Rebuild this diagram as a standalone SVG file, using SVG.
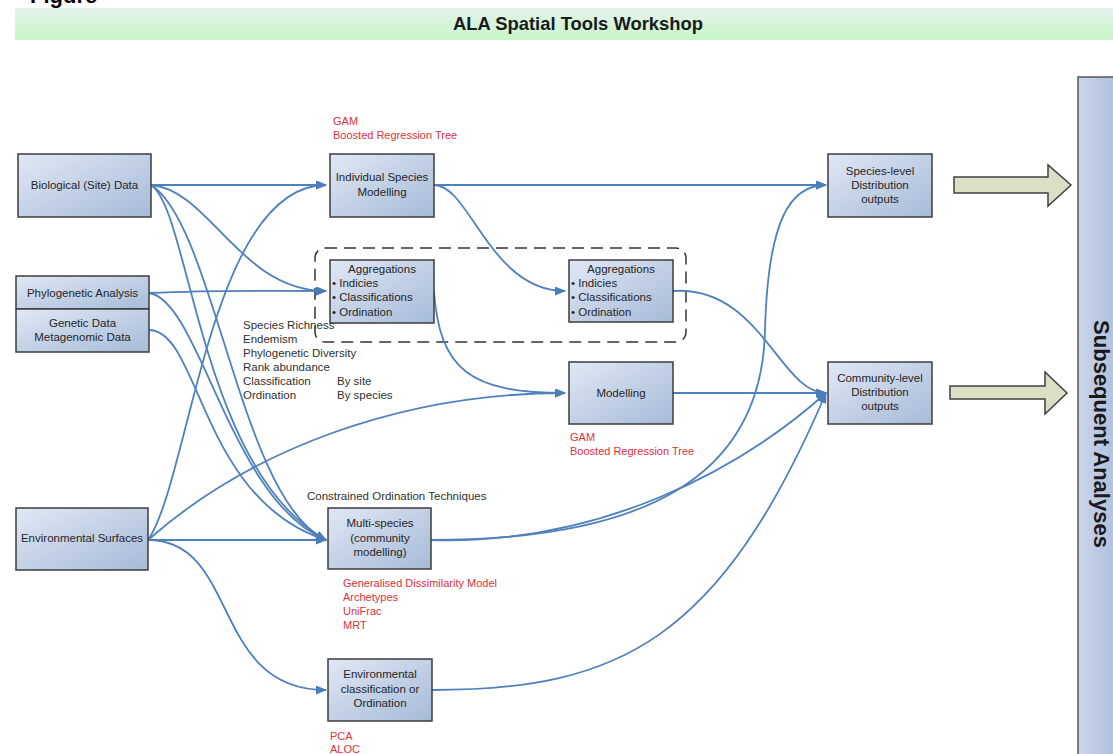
<svg xmlns="http://www.w3.org/2000/svg" width="1113" height="754" viewBox="0 0 1113 754">
<defs>
<linearGradient id="nodeGrad" x1="0" y1="0" x2="1" y2="1">
<stop offset="0" stop-color="#e0e8f4"/>
<stop offset="1" stop-color="#a6bad8"/>
</linearGradient>
<linearGradient id="titleGrad" x1="0" y1="0" x2="0" y2="1">
<stop offset="0" stop-color="#e4f3ec"/>
<stop offset="1" stop-color="#c8f6c8"/>
</linearGradient>
<linearGradient id="sideGrad" x1="0" y1="0" x2="1" y2="0">
<stop offset="0" stop-color="#c9d5ea"/>
<stop offset="1" stop-color="#aebfdd"/>
</linearGradient>
<marker id="arr" markerWidth="11" markerHeight="9" refX="10" refY="4.5" orient="auto" markerUnits="userSpaceOnUse">
<path d="M0,0 L11,4.5 L0,9 z" fill="#4a7ebb"/>
</marker>
<style>
.node{fill:url(#nodeGrad);stroke:#3c3c3c;stroke-width:1.5}
.t{font-family:"Liberation Sans",Arial,sans-serif;font-size:11.5px;fill:#262626}
.c{text-anchor:middle}
.red{font-family:"Liberation Sans",Arial,sans-serif;font-size:11px;fill:#e0303a}
.lbl{font-family:"Liberation Sans",Arial,sans-serif;font-size:11.5px;fill:#303030}
.conn path{fill:none;stroke:#4f81bd;stroke-width:1.8}
.big{fill:#dcdec6;stroke:#404040;stroke-width:1.5}
</style>
</defs>
<rect width="1113" height="754" fill="#ffffff"/>

<g id="header">
<text x="30" y="3" font-family="Liberation Sans, Arial, sans-serif" font-size="22" font-weight="bold" fill="#000">Figure</text>
<rect x="15" y="8" width="1098" height="32" fill="url(#titleGrad)"/>
<text x="578" y="30" text-anchor="middle" font-family="Liberation Sans, Arial, sans-serif" font-size="18.4" font-weight="bold" fill="#1a1a1a">ALA Spatial Tools Workshop</text>
</g>

<g id="subsequent">
<rect x="1078" y="77" width="40" height="690" fill="url(#sideGrad)" stroke="#555" stroke-width="1.5"/>
<text transform="translate(1094,434) rotate(90)" text-anchor="middle" font-family="Liberation Sans, Arial, sans-serif" font-size="22" font-weight="bold" fill="#1a1a1a">Subsequent Analyses</text>
</g>

<g id="aggregation-group">
<rect x="315" y="248" width="371" height="94" rx="10" ry="10" fill="none" stroke="#333" stroke-width="1.5" stroke-dasharray="12 7"/>
</g>

<g class="conn" id="connectors">
<path d="M151,185 L326,185" marker-end="url(#arr)"/>
<path d="M151,185 C210,190 240,291 326,291" marker-end="url(#arr)"/>
<path d="M151,185 C190,210 200,470 326,540" marker-end="url(#arr)"/>
<path d="M151,185 C215,225 240,500 326,540" marker-end="url(#arr)"/>
<path d="M149,293 C220,290 250,291 326,291" marker-end="url(#arr)"/>
<path d="M149,293 C200,300 230,500 326,540" marker-end="url(#arr)"/>
<path d="M149,330 C200,330 200,500 326,540" marker-end="url(#arr)"/>
<path d="M148,540 L326,540" marker-end="url(#arr)"/>
<path d="M148,540 C190,480 210,185 326,185" marker-end="url(#arr)"/>
<path d="M148,540 C250,450 400,393 565,393" marker-end="url(#arr)"/>
<path d="M148,540 C240,540 210,690 326,690" marker-end="url(#arr)"/>
<path d="M434,185 L826,185" marker-end="url(#arr)"/>
<path d="M434,185 C470,185 490,291 565,291" marker-end="url(#arr)"/>
<path d="M434,292 C440,370 470,393 565,393" marker-end="url(#arr)"/>
<path d="M673,291 C760,285 780,393 826,393" marker-end="url(#arr)"/>
<path d="M673,393 L826,393" marker-end="url(#arr)"/>
<path d="M431,540 C640,540 762,480 765,330 C768,220 790,185 826,185" marker-end="url(#arr)"/>
<path d="M431,540 C600,545 740,470 826,393" marker-end="url(#arr)"/>
<path d="M432,690 C620,690 720,640 826,393" marker-end="url(#arr)"/>
</g>

<g id="bio">
<rect class="node" x="18" y="154" width="133" height="63"/>
<text class="t c" x="84.5" y="189">Biological (Site) Data</text>
</g>
<g id="phylo">
<rect class="node" x="16" y="276" width="133" height="33"/>
<text class="t c" x="82.5" y="297">Phylogenetic Analysis</text>
</g>
<g id="genetic">
<rect class="node" x="16" y="309" width="133" height="43"/>
<text class="t c" x="82.5" y="327">Genetic Data</text>
<text class="t c" x="82.5" y="341">Metagenomic Data</text>
</g>
<g id="envsurf">
<rect class="node" x="16" y="508" width="132" height="62"/>
<text class="t c" x="82" y="542">Environmental Surfaces</text>
</g>
<g id="ism">
<rect class="node" x="330" y="154" width="104" height="63"/>
<text class="t c" x="382" y="181">Individual Species</text>
<text class="t c" x="382" y="196">Modelling</text>
<text class="red" x="333" y="125">GAM</text>
<text class="red" x="333" y="139">Boosted Regression Tree</text>
</g>
<g id="agg1">
<rect class="node" x="330" y="260" width="104" height="63"/>
<text class="t c" x="382" y="273">Aggregations</text>
<text class="t" x="332" y="287">• Indicies</text>
<text class="t" x="332" y="301">• Classifications</text>
<text class="t" x="332" y="316">• Ordination</text>
</g>
<g id="agg2">
<rect class="node" x="569" y="260" width="104" height="62"/>
<text class="t c" x="621" y="273">Aggregations</text>
<text class="t" x="571" y="287">• Indicies</text>
<text class="t" x="571" y="301">• Classifications</text>
<text class="t" x="571" y="316">• Ordination</text>
</g>
<g id="indices-labels">
<text class="lbl" x="243" y="329">Species Richness</text>
<text class="lbl" x="243" y="343">Endemism</text>
<text class="lbl" x="243" y="357">Phylogenetic Diversity</text>
<text class="lbl" x="243" y="371">Rank abundance</text>
<text class="lbl" x="243" y="385">Classification</text>
<text class="lbl" x="243" y="399">Ordination</text>
<text class="lbl" x="337" y="385">By site</text>
<text class="lbl" x="337" y="399">By species</text>
</g>
<g id="modelling">
<rect class="node" x="569" y="362" width="104" height="62"/>
<text class="t c" x="621" y="397">Modelling</text>
<text class="red" x="570" y="441">GAM</text>
<text class="red" x="570" y="455">Boosted Regression Tree</text>
</g>
<g id="multispecies">
<text class="lbl" x="307" y="500">Constrained Ordination Techniques</text>
<rect class="node" x="328" y="508" width="103" height="61"/>
<text class="t c" x="380" y="527">Multi-species</text>
<text class="t c" x="380" y="542">(community</text>
<text class="t c" x="380" y="556">modelling)</text>
<text class="red" x="343" y="587">Generalised Dissimilarity Model</text>
<text class="red" x="343" y="601">Archetypes</text>
<text class="red" x="343" y="615">UniFrac</text>
<text class="red" x="343" y="629">MRT</text>
</g>
<g id="envclass">
<rect class="node" x="328" y="659" width="104" height="62"/>
<text class="t c" x="380" y="678">Environmental</text>
<text class="t c" x="380" y="693">classification or</text>
<text class="t c" x="380" y="707">Ordination</text>
<text class="red" x="330" y="740">PCA</text>
<text class="red" x="330" y="753">ALOC</text>
</g>
<g id="species-level">
<rect class="node" x="828" y="154" width="104" height="63"/>
<text class="t c" x="880" y="175">Species-level</text>
<text class="t c" x="880" y="189">Distribution</text>
<text class="t c" x="880" y="203">outputs</text>
<polygon class="big" points="954,177 1048,177 1048,165 1071,185 1048,206 1048,193 954,193"/>
</g>
<g id="community-level">
<rect class="node" x="828" y="362" width="104" height="62"/>
<text class="t c" x="880" y="382">Community-level</text>
<text class="t c" x="880" y="396">Distribution</text>
<text class="t c" x="880" y="410">outputs</text>
<polygon class="big" points="950,386 1045,386 1045,372 1067,393 1045,414 1045,399 950,399"/>
</g>
</svg>
